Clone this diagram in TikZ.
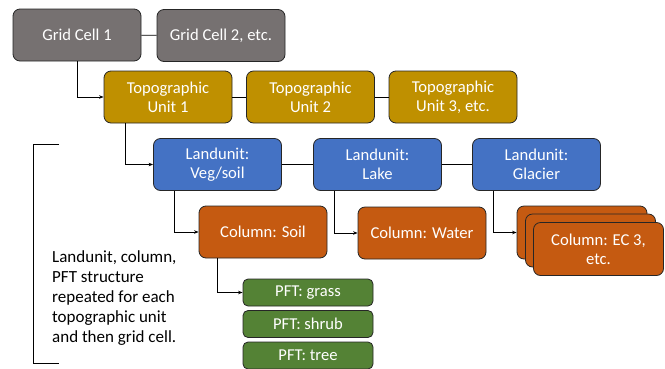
\documentclass[tikz,border=0pt]{standalone}
\usepackage{fontspec}
\setmainfont{Carlito}
\usetikzlibrary{arrows.meta}
\definecolor{cgrey}{HTML}{767171}
\definecolor{cgold}{HTML}{BF9000}
\definecolor{cblue}{HTML}{4472C4}
\definecolor{corange}{HTML}{C55A11}
\definecolor{cgreen}{HTML}{548235}
\definecolor{cline}{HTML}{262626}
\begin{document}
\begin{tikzpicture}[x=1pt,y=-1pt,
  box/.style={draw=cline,line width=0.8pt,rounded corners=7pt,text=white,align=center,
    minimum width=128pt,minimum height=52pt,inner sep=2pt,
    font=\fontsize{16.6}{19}\selectfont},
  pftbox/.style={box,minimum width=130pt,minimum height=27pt,rounded corners=5pt},
  link/.style={draw=black,line width=0.9pt},
  arr/.style={link,-{Stealth[length=4.5pt,width=3.5pt]}}]
\useasboundingbox (0,0) rectangle (665,368);
% grid cells
\node[box,fill=cgrey] (gc1) at (77,35) {Grid Cell 1};
\node[box,fill=cgrey] (gc2) at (221,35.5) {Grid Cell 2, etc.};
% topographic units
\node[box,fill=cgold] (tu1) at (168,97) {Topographic\\Unit 1};
\node[box,fill=cgold] (tu2) at (310.5,97) {Topographic\\Unit 2};
\node[box,fill=cgold] (tu3) at (453,97) {Topographic\\Unit 3, etc.};
% landunits
\node[box,fill=cblue] (lu1) at (217.5,164.5) {Landunit:\\Veg/soil};
\node[box,fill=cblue] (lu2) at (377.5,164.5) {Landunit:\\Lake};
\node[box,fill=cblue] (lu3) at (536.5,164.5) {Landunit:\\Glacier};
% columns
\node[box,fill=corange] (cs) at (263,232) {Column: Soil};
\node[box,fill=corange] (cw) at (422,233) {Column: Water};
\node[box,fill=corange,minimum width=130pt,minimum height=53pt] (ecA) at (582,232.5) {};
\node[box,fill=corange,minimum width=130pt,minimum height=53pt] (ecB) at (590.5,240.5) {};
\node[box,fill=corange,minimum width=130pt,minimum height=53pt] (ecC) at (598.5,249) {Column: EC 3,\\etc.};
% PFTs
\node[pftbox,fill=cgreen] (p1) at (308,292.5) {PFT: grass};
\node[pftbox,fill=cgreen] (p2) at (308,324) {PFT: shrub};
\node[pftbox,fill=cgreen] (p3) at (308,355.5) {PFT: tree};
% sibling links
\draw[link] (gc1) -- (gc2);
\draw[link] (tu1) -- (tu2);
\draw[link] (tu2) -- (tu3);
\draw[link] (lu1) -- (lu2);
\draw[link] (lu2) -- (lu3);
% child arrows
\draw[arr] (gc1.south) |- (tu1.west);
\draw[arr] ([xshift=22pt]tu1.south west) |- (lu1.west);
\draw[arr] ([xshift=21pt]lu1.south west) |- (cs.west);
\draw[arr] ([xshift=21pt]lu2.south west) |- (cw.west);
\draw[arr] ([xshift=21pt]lu3.south west) |- (ecA.west);
\draw[arr] ([xshift=19pt]cs.south west) |- (p1.west);
% bracket and note
\coordinate (bt) at (59,144);
\coordinate (bb) at (59,363);
\draw[line width=1pt] (bt) -- ++(-26,0) -- ([xshift=-26pt]bb) -- (bb);
\node[anchor=west,align=left,font=\fontsize{17}{20}\selectfont,inner sep=0pt] (note) at (52,298)
  {Landunit, column,\\PFT structure\\repeated for each\\topographic unit\\and then grid cell.};
\end{tikzpicture}
\end{document}
